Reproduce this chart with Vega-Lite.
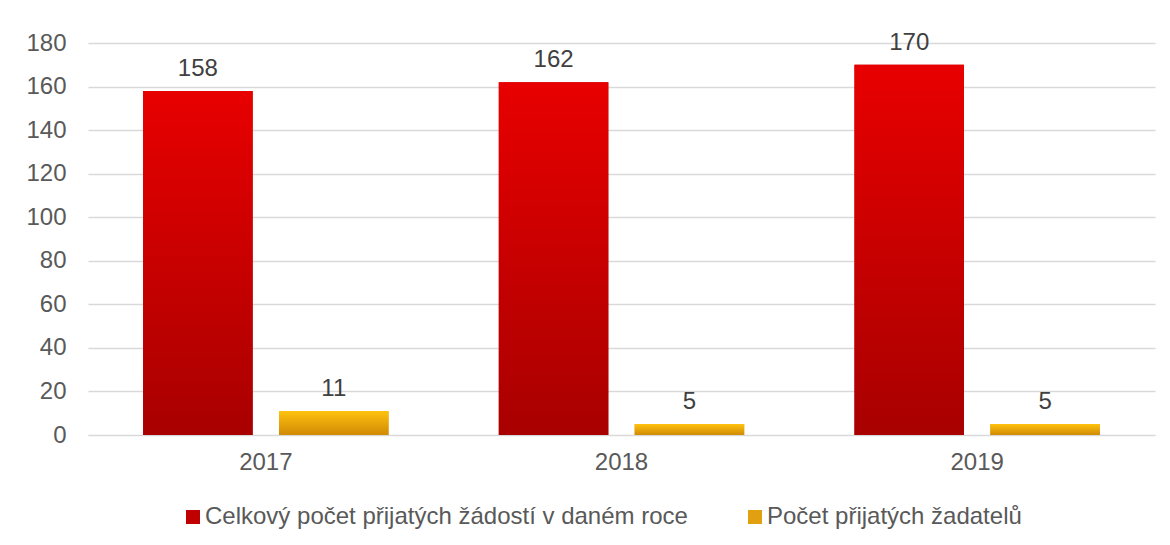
{
  "$schema": "https://vega.github.io/schema/vega-lite/v6.json",
  "width": 1067,
  "height": 392,
  "autosize": "none",
  "padding": {"left": 88, "top": 43, "right": 15, "bottom": 110},
  "background": "white",
  "config": {"view": {"stroke": null}, "font": "Liberation Sans"},
  "data": {
    "values": [
      {"year": "2017", "series": "Celkový počet přijatých žádostí v daném roce", "value": 158},
      {"year": "2017", "series": "Počet přijatých žadatelů", "value": 11},
      {"year": "2018", "series": "Celkový počet přijatých žádostí v daném roce", "value": 162},
      {"year": "2018", "series": "Počet přijatých žadatelů", "value": 5},
      {"year": "2019", "series": "Celkový počet přijatých žádostí v daném roce", "value": 170},
      {"year": "2019", "series": "Počet přijatých žadatelů", "value": 5}
    ]
  },
  "encoding": {
    "x": {
      "field": "year",
      "type": "nominal",
      "scale": {"paddingInner": 0.31, "paddingOuter": 0.155},
      "axis": {
        "title": null,
        "labelAngle": 0,
        "labelFontSize": 24,
        "labelColor": "#595959",
        "ticks": false,
        "domainColor": "#d9d9d9",
        "labelPadding": 15
      }
    },
    "xOffset": {
      "field": "series",
      "type": "nominal",
      "sort": ["Celkový počet přijatých žádostí v daném roce", "Počet přijatých žadatelů"],
      "scale": {"paddingInner": 0.194, "paddingOuter": 0}
    },
    "y": {
      "field": "value",
      "type": "quantitative",
      "scale": {"domain": [0, 180]},
      "axis": {
        "title": null,
        "values": [0, 20, 40, 60, 80, 100, 120, 140, 160, 180],
        "grid": true,
        "gridColor": "#d9d9d9",
        "gridWidth": 1.3,
        "domain": false,
        "ticks": false,
        "labelFontSize": 24,
        "labelColor": "#595959",
        "labelPadding": 22
      }
    }
  },
  "layer": [
    {
      "mark": {"type": "bar"},
      "encoding": {
        "color": {
          "field": "series",
          "type": "nominal",
          "scale": {
            "domain": ["Celkový počet přijatých žádostí v daném roce", "Počet přijatých žadatelů"],
            "range": ["#c00000", "#e0a010"]
          },
          "legend": {
            "title": null,
            "orient": "none",
            "legendX": 93,
            "legendY": 462,
            "direction": "horizontal",
            "symbolType": "square",
            "symbolSize": 196,
            "symbolStrokeWidth": 0,
            "labelFontSize": 24,
            "labelColor": "#595959",
            "labelLimit": 1000,
            "labelOffset": 0,
            "columnPadding": 55
          }
        }
      }
    },
    {
      "transform": [{"filter": "datum.value > 100"}],
      "mark": {
        "type": "bar",
        "color": {
          "gradient": "linear",
          "x1": 0, "y1": 0, "x2": 0, "y2": 1,
          "stops": [
            {"offset": 0, "color": "#e80000"},
            {"offset": 1, "color": "#a80000"}
          ]
        }
      }
    },
    {
      "transform": [{"filter": "datum.value < 100"}],
      "mark": {
        "type": "bar",
        "color": {
          "gradient": "linear",
          "x1": 0, "y1": 0, "x2": 0, "y2": 1,
          "stops": [
            {"offset": 0, "color": "#ffc20e"},
            {"offset": 1, "color": "#d08a05"}
          ]
        }
      }
    },
    {
      "mark": {"type": "text", "baseline": "alphabetic", "dy": -15, "fontSize": 24, "color": "#404040"},
      "encoding": {"text": {"field": "value", "type": "quantitative"}}
    }
  ]
}
